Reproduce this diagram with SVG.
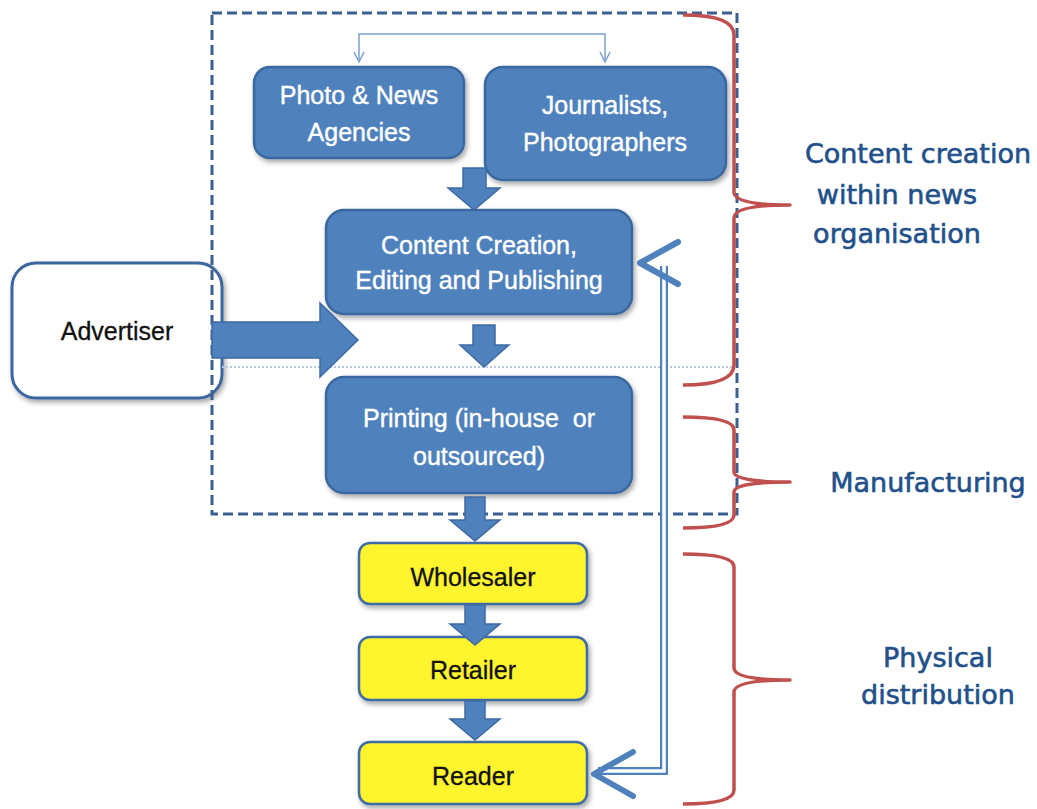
<svg xmlns="http://www.w3.org/2000/svg" width="1037" height="809" viewBox="0 0 1037 809">
  <style>
    .box { fill: #4F81BD; stroke: #3A679E; stroke-width: 2.5; filter: url(#shadow); }
    .ybox { fill: #FFF42E; stroke: #3F6CA5; stroke-width: 2.5; filter: url(#shadow); }
    .wbox { fill: #FFFFFF; stroke: #3B66A0; stroke-width: 3; filter: url(#shadow); }
    .wt { font-family: "Liberation Sans", Arial, sans-serif; font-size: 25px; fill: #FFFFFF; stroke: #FFFFFF; stroke-width: 0.4; text-anchor: middle; }
    .bt { font-family: "Liberation Sans", Arial, sans-serif; font-size: 25px; fill: #111111; stroke: #111111; stroke-width: 0.3; text-anchor: middle; }
    .lbl { font-family: "DejaVu Sans", Verdana, sans-serif; font-size: 27px; fill: #22508A; stroke: #22508A; stroke-width: 0.6; text-anchor: middle; }
    .block { fill: #4F81BD; stroke: #3D6AA2; stroke-width: 1.5; }
    .thin { fill: none; stroke: #7BA1D0; stroke-width: 1.5; }
    .chev { fill: none; stroke: #4F81BD; stroke-width: 6; stroke-linecap: round; stroke-linejoin: round; }
    .brace { fill: none; stroke: #C0504D; stroke-width: 3.5; stroke-linejoin: round; }
  </style>
  <defs>
    <filter id="shadow" x="-10%" y="-10%" width="125%" height="130%">
      <feDropShadow dx="2" dy="3" stdDeviation="2.5" flood-color="#000000" flood-opacity="0.35"/>
    </filter>
    <marker id="vhead" viewBox="0 0 12 12" refX="11" refY="6" markerWidth="12" markerHeight="12" markerUnits="userSpaceOnUse" orient="auto">
      <path d="M1,1 L11,6 L1,11" fill="none" stroke="#7BA1D0" stroke-width="1.5"/>
    </marker>
  </defs>

  <!-- advertiser sits outside the organisation boundary -->
  <g id="advertiser">
    <rect class="wbox" x="12" y="263" width="210" height="135" rx="24"/>
    <text class="bt" x="117" y="340">Advertiser</text>
  </g>

  <!-- organisation boundary and internal divider -->
  <g id="boundary">
    <rect x="212" y="13" width="525" height="501" fill="none" stroke="#3A5F90" stroke-width="3" stroke-dasharray="10 5"/>
    <line x1="222" y1="367" x2="737" y2="367" stroke="#B4C8E4" stroke-width="2" stroke-dasharray="2 2"/>
  </g>

  <g id="agencies">
    <rect class="box" x="254" y="67" width="210" height="91" rx="16"/>
    <text class="wt" x="359" y="104">Photo &amp; News</text>
    <text class="wt" x="359" y="141">Agencies</text>
  </g>

  <g id="journalists">
    <rect class="box" x="485" y="67" width="241" height="113" rx="18"/>
    <text class="wt" x="605" y="114">Journalists,</text>
    <text class="wt" x="605" y="151">Photographers</text>
  </g>

  <g id="content">
    <rect class="box" x="326" y="210" width="306" height="104" rx="18"/>
    <text class="wt" x="479" y="254">Content Creation,</text>
    <text class="wt" x="479" y="289">Editing and Publishing</text>
  </g>

  <g id="printing">
    <rect class="box" x="326" y="377" width="306" height="116" rx="18"/>
    <text class="wt" x="479" y="427" xml:space="preserve">Printing (in-house  or</text>
    <text class="wt" x="479" y="465">outsourced)</text>
  </g>

  <g id="wholesaler">
    <rect class="ybox" x="359" y="543" width="228" height="61" rx="11"/>
    <text class="bt" x="473" y="586">Wholesaler</text>
  </g>

  <g id="retailer">
    <rect class="ybox" x="359" y="637" width="228" height="63" rx="11"/>
    <text class="bt" x="473" y="679">Retailer</text>
  </g>

  <g id="reader">
    <rect class="ybox" x="359" y="742" width="228" height="62" rx="11"/>
    <text class="bt" x="473" y="785">Reader</text>
  </g>

  <g id="connectors">
    <!-- shared feed to both content sources -->
    <path class="thin" d="M482,34 L359,34 L359,62" marker-end="url(#vhead)"/>
    <path class="thin" d="M482,34 L605,34 L605,62" marker-end="url(#vhead)"/>
    <!-- block arrows along the main flow -->
    <polygon class="block" points="463,168 486,168 486,188 500,188 474,210 448,188 463,188"/>
    <polygon class="block" points="212,322 320,322 320,303 358,340 320,377 320,358 212,358"/>
    <polygon class="block" points="473,325 495,325 495,345 509,345 484,367 460,345 473,345"/>
    <polygon class="block" points="465,497 485,497 485,520 500,520 475,541 450,520 465,520"/>
    <polygon class="block" points="465,605 485,605 485,624 500,624 475,645 450,624 465,624"/>
    <polygon class="block" points="465,701 485,701 485,719 500,719 475,740 450,719 465,719"/>
    <!-- feedback loop between reader and newsroom (double line) -->
    <path d="M598,771 L664,771 L664,266" fill="none" stroke="#4F81BD" stroke-width="8"/>
    <path d="M598,771 L664,771 L664,266" fill="none" stroke="#FFFFFF" stroke-width="3.5"/>
    <path class="chev" d="M633,752 L594,774 L633,796"/>
    <path class="chev" d="M678,242 L640,263 L678,284"/>
  </g>

  <!-- braces grouping the value-chain stages -->
  <g id="stages">
    <path class="brace" d="M683,15 Q734,15 734,35 L734,192 Q734,205 790,205 Q734,205 734,218 L734,365 Q734,385 683,385"/>
    <path class="brace" d="M683,417 Q734,417 734,430 L734,472 Q734,482 790,482 Q734,482 734,492 L734,515 Q734,528 683,528"/>
    <path class="brace" d="M683,554 Q734,554 734,567 L734,668 Q734,680 790,680 Q734,680 734,692 L734,790 Q734,804 683,804"/>
    <text class="lbl" x="918" y="163">Content creation</text>
    <text class="lbl" x="897" y="204">within news</text>
    <text class="lbl" x="897" y="243">organisation</text>
    <text class="lbl" x="928" y="492">Manufacturing</text>
    <text class="lbl" x="938" y="667">Physical</text>
    <text class="lbl" x="938" y="704">distribution</text>
  </g>
</svg>
